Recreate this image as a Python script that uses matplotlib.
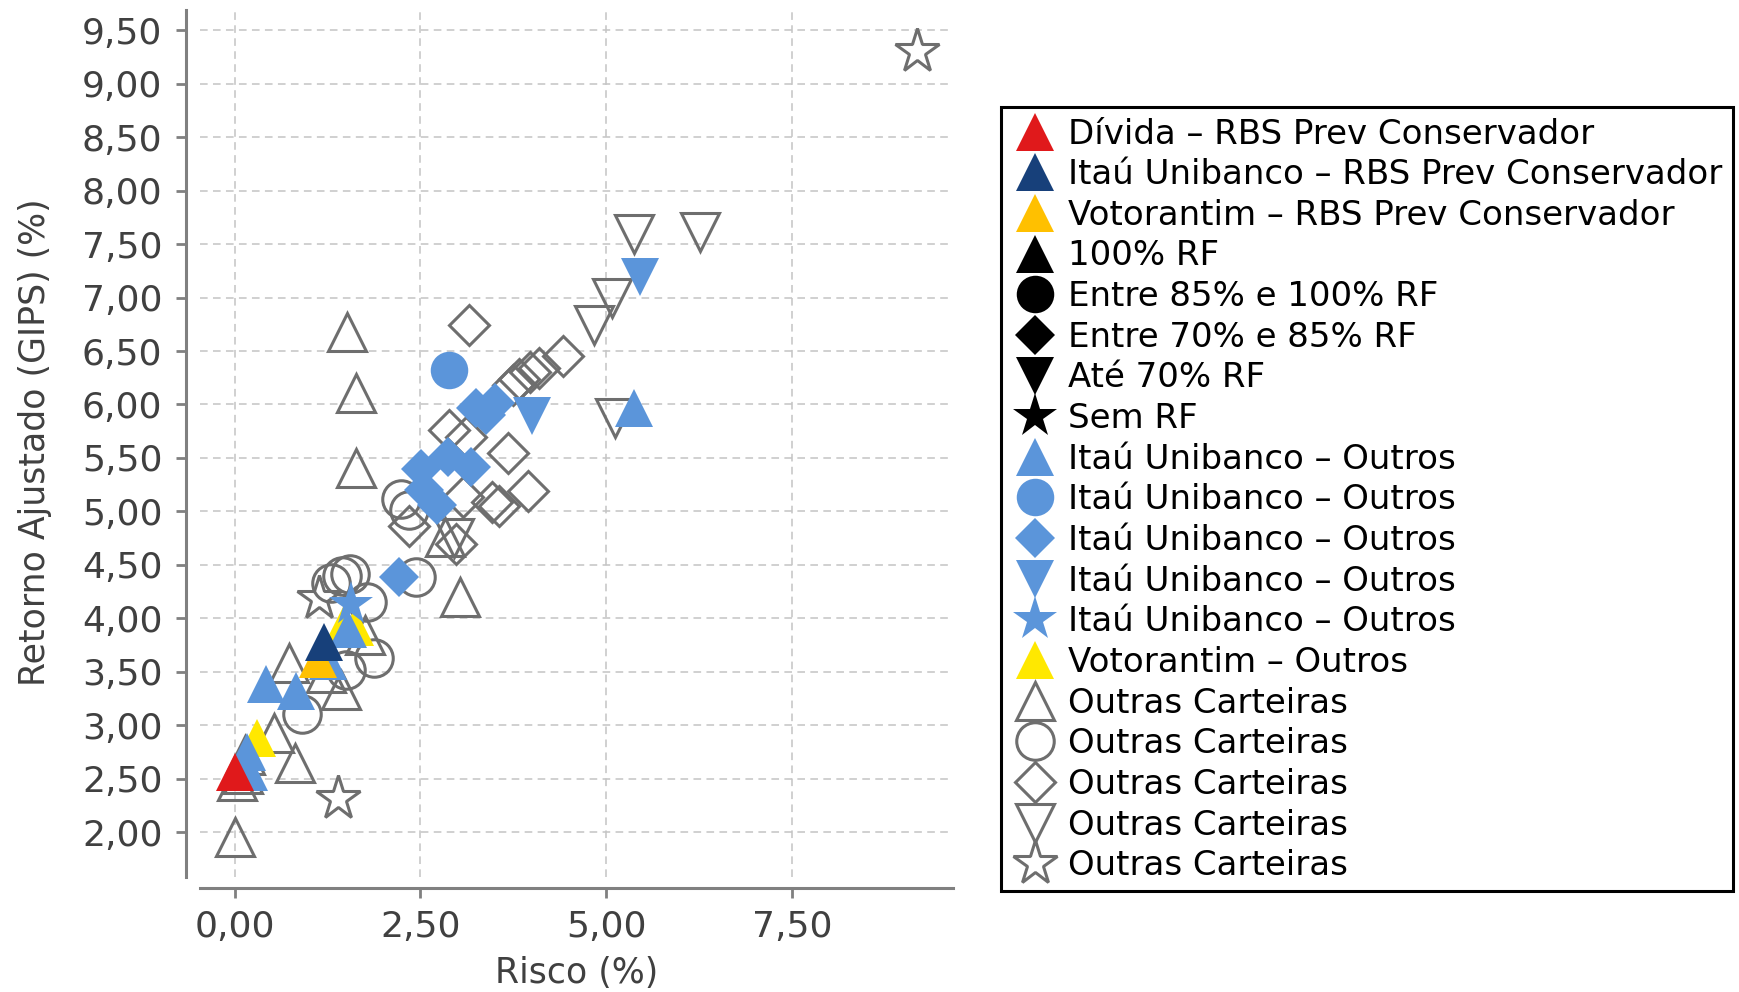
import matplotlib
matplotlib.use("Agg")
import matplotlib.pyplot as plt
from matplotlib.ticker import FuncFormatter, FixedLocator
from matplotlib.patches import Rectangle

plt.rcParams['font.family'] = ['DejaVu Sans']

# ---------------- data ----------------
divida_x = [0.01]
divida_y = [2.57]
itau_rbs_x = [1.21]
itau_rbs_y = [3.78]
voto_rbs_x = [1.12]
voto_rbs_y = [3.62]

itau_tri_x = [0.20, 0.17, 0.43, 0.83, 1.26, 1.53, 5.37]
itau_tri_y = [2.57, 2.75, 3.39, 3.32, 3.60, 3.90, 5.97]
itau_circ_x = [2.89]
itau_circ_y = [6.32]
itau_diam_x = [2.22, 2.55, 2.51, 2.73, 2.87, 3.18, 3.38, 3.25, 3.50]
itau_diam_y = [4.39, 5.20, 5.40, 5.06, 5.51, 5.42, 5.90, 5.97, 6.01]
itau_down_x = [4.00, 5.46]
itau_down_y = [5.89, 7.19]
itau_star_x = [1.57]
itau_star_y = [4.14]
voto_out_x = [0.30, 1.47, 1.62]
voto_out_y = [2.88, 3.95, 3.92]

out_tri_x = [0.01, 0.03, 0.12, 0.14, 0.53, 0.82, 0.73, 1.43, 1.23, 1.75,
             1.51, 1.64, 1.63, 3.03, 2.83]
out_tri_y = [1.96, 2.48, 2.55, 2.72, 2.93, 2.65, 3.58, 3.33, 3.49, 3.85,
             6.68, 6.11, 5.41, 4.20, 4.76]
out_circ_x = [0.91, 1.88, 1.50, 1.30, 1.45, 1.56, 1.78, 2.44, 2.24, 2.35]
out_circ_y = [3.11, 3.63, 3.52, 4.33, 4.40, 4.42, 4.15, 4.39, 5.12, 5.01]
out_diam_x = [3.15, 3.75, 3.83, 3.97, 4.10, 4.42, 2.89, 3.12, 3.68, 3.95,
              3.47, 3.56, 3.07, 2.98, 2.35]
out_diam_y = [6.74, 6.18, 6.24, 6.30, 6.34, 6.45, 5.76, 5.70, 5.55, 5.19,
              5.09, 5.05, 5.14, 4.70, 4.86]
out_down_x = [5.37, 6.26, 5.08, 4.84, 5.12, 2.95]
out_down_y = [7.59, 7.61, 7.00, 6.74, 5.87, 4.75]
out_star_x = [9.18, 1.39, 1.14]
out_star_y = [9.30, 2.32, 4.19]

labels = [
    "Dívida – RBS Prev Conservador",
    "Itaú Unibanco – RBS Prev Conservador",
    "Votorantim – RBS Prev Conservador",
    "100% RF",
    "Entre 85% e 100% RF",
    "Entre 70% e 85% RF",
    "Até 70% RF",
    "Sem RF",
    "Itaú Unibanco – Outros",
    "Itaú Unibanco – Outros",
    "Itaú Unibanco – Outros",
    "Itaú Unibanco – Outros",
    "Itaú Unibanco – Outros",
    "Votorantim – Outros",
    "Outras Carteiras",
    "Outras Carteiras",
    "Outras Carteiras",
    "Outras Carteiras",
    "Outras Carteiras",
]

x_ticks = [0.0, 2.5, 5.0, 7.5]
y_ticks = [2.0, 2.5, 3.0, 3.5, 4.0, 4.5, 5.0, 5.5, 6.0, 6.5, 7.0, 7.5, 8.0, 8.5, 9.0, 9.5]

# ---------------- style ----------------
RED = '#E0191B'
NAVY = '#17407A'
ORANGE = '#FFC000'
BLUE = '#5B95DA'
YELLOW = '#FFE800'
GREY = '#6E6E6E'

MS = {'^': 28, 'v': 28, 'o': 27, 'D': 20, '*': 33}

fig = plt.figure(figsize=(17.4, 9.92), dpi=100)
ax = fig.add_axes([200/1740, 1-877/992, (953-200)/1740, (877-10)/992])
ax.set_xlim(-0.465, 9.67)
ax.set_ylim(1.584, 9.687)

handles = []

def filled(x, y, m, c, z, lab):
    h, = ax.plot(x, y, ls='none', marker=m, ms=MS[m], mfc=c, mec=c, mew=0,
                 zorder=z, label=lab, clip_on=False)
    return h

def outline(x, y, m, lab):
    h, = ax.plot(x, y, ls='none', marker=m, ms=MS[m], mfc='none', mec=GREY,
                 mew=2.2, zorder=2, label=lab, clip_on=False)
    return h

handles.append(filled(divida_x, divida_y, '^', RED, 9, labels[0]))
handles.append(filled(itau_rbs_x, itau_rbs_y, '^', NAVY, 8, labels[1]))
handles.append(filled(voto_rbs_x, voto_rbs_y, '^', ORANGE, 7, labels[2]))
handles.append(filled([], [], '^', 'black', 5, labels[3]))
handles.append(filled([], [], 'o', 'black', 5, labels[4]))
handles.append(filled([], [], 'D', 'black', 5, labels[5]))
handles.append(filled([], [], 'v', 'black', 5, labels[6]))
handles.append(filled([], [], '*', 'black', 5, labels[7]))
handles.append(filled(itau_tri_x, itau_tri_y, '^', BLUE, 5, labels[8]))
handles.append(filled(itau_circ_x, itau_circ_y, 'o', BLUE, 5, labels[9]))
handles.append(filled(itau_diam_x, itau_diam_y, 'D', BLUE, 5, labels[10]))
handles.append(filled(itau_down_x, itau_down_y, 'v', BLUE, 5, labels[11]))
handles.append(filled(itau_star_x, itau_star_y, '*', BLUE, 5, labels[12]))
handles.append(filled(voto_out_x, voto_out_y, '^', YELLOW, 4, labels[13]))
handles.append(outline(out_tri_x, out_tri_y, '^', labels[14]))
handles.append(outline(out_circ_x, out_circ_y, 'o', labels[15]))
handles.append(outline(out_diam_x, out_diam_y, 'D', labels[16]))
handles.append(outline(out_down_x, out_down_y, 'v', labels[17]))
handles.append(outline(out_star_x, out_star_y, '*', labels[18]))

# axes styling
ax.xaxis.set_major_locator(FixedLocator(x_ticks))
ax.yaxis.set_major_locator(FixedLocator(y_ticks))
fmt = FuncFormatter(lambda v, p: f"{v:.2f}".replace('.', ','))
ax.xaxis.set_major_formatter(fmt)
ax.yaxis.set_major_formatter(fmt)

ax.grid(True, color='#C4C4C4', linestyle=(0, (5, 3.5)), linewidth=1.1, zorder=0)
ax.set_axisbelow(True)
for s in ['top', 'right']:
    ax.spines[s].set_visible(False)
ax.spines['left'].set_position(('outward', 10))
ax.spines['bottom'].set_position(('outward', 8))
for s in ['left', 'bottom']:
    ax.spines[s].set_color('#808080')
    ax.spines[s].set_linewidth(2.2)
ax.tick_params(axis='both', direction='out', length=7, width=2.0, color='#808080',
               labelsize=26, labelcolor='#404040')
ax.tick_params(axis='y', pad=10)
ax.tick_params(axis='x', pad=9)

fig.text(35/1740, 1-442/992, "Retorno Ajustado (GIPS) (%)", rotation=90,
         ha='center', va='center', fontsize=25, color='#404040')
fig.text(577/1740, 1-973/992, "Risco (%)", ha='center', va='center',
         fontsize=25, color='#404040')

# legend
leg = fig.legend(handles=handles, labels=labels, loc='upper left',
                 bbox_to_anchor=(1008/1740, 1-117.5/992), frameon=False,
                 borderpad=0, borderaxespad=0, handlelength=1.6,
                 handletextpad=0.16, labelspacing=0.225, fontsize=24.5,
                 numpoints=1)
for t in leg.get_texts():
    t.set_color('black')

fig.add_artist(Rectangle((1001/1740, 1-891/992), 732/1740, 784/992,
                         transform=fig.transFigure, fill=False,
                         edgecolor='black', linewidth=2.2, zorder=10))

fig.savefig("out.png", dpi=100)
